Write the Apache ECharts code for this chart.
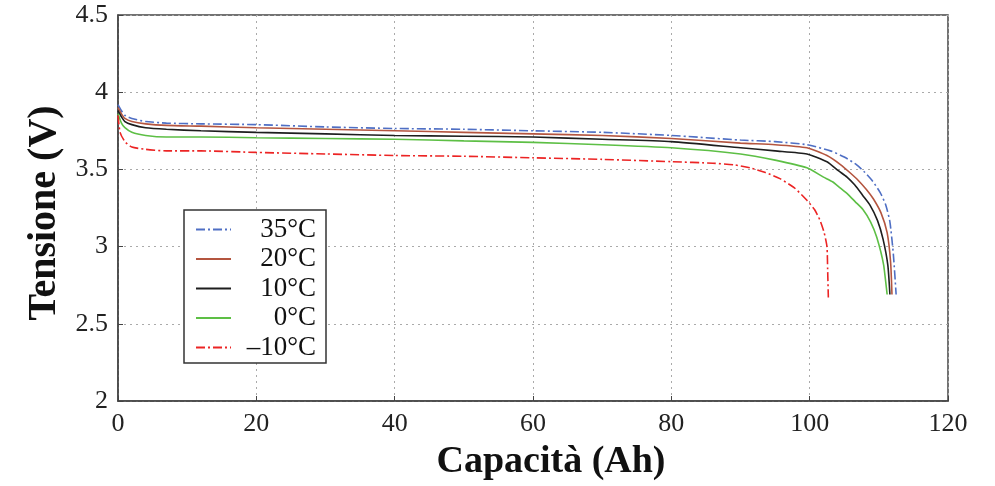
<!DOCTYPE html>
<html>
<head>
<meta charset="utf-8">
<script src="https://cdn.jsdelivr.net/npm/echarts@6/dist/echarts.min.js"></script>
<style>
  html, body { margin: 0; padding: 0; background: #fff; }
  #chart { width: 995px; height: 486px; }
</style>
</head>
<body>
<div id="chart"></div>
<script>
// curve di scarica: capacità (Ah) e tensione (V)
const x35 = [0, 0.5, 1, 2, 4, 7, 12, 20, 30, 40, 50, 60, 70, 80, 90, 95, 99.6, 103, 105, 106.8, 108, 109, 110.2, 111, 111.6, 112.1, 112.5]
const v35 = [3.92, 3.88, 3.85, 3.83, 3.81, 3.80, 3.795, 3.79, 3.775, 3.765, 3.76, 3.75, 3.74, 3.72, 3.69, 3.68, 3.66, 3.62, 3.58, 3.53, 3.48, 3.43, 3.35, 3.27, 3.16, 2.95, 2.69]

const x20 = [0, 0.5, 1, 2, 4, 7, 12, 20, 30, 40, 50, 60, 70, 80, 90, 95, 99.6, 102.5, 104.5, 105.8, 107, 108.2, 109.2, 110.3, 111.2, 111.7, 111.9]
const v20 = [3.90, 3.86, 3.83, 3.81, 3.795, 3.785, 3.78, 3.77, 3.76, 3.75, 3.74, 3.73, 3.72, 3.70, 3.67, 3.66, 3.64, 3.59, 3.53, 3.48, 3.43, 3.37, 3.31, 3.22, 3.09, 2.90, 2.69]

const x10 = [0, 0.5, 1, 2, 4, 7, 12, 20, 30, 40, 50, 60, 70, 80, 90, 95, 99.6, 102.5, 104.2, 105.4, 106.5, 107.7, 108.7, 109.8, 110.6, 111.3, 111.6]
const v10 = [3.88, 3.84, 3.81, 3.79, 3.77, 3.76, 3.75, 3.74, 3.73, 3.72, 3.715, 3.71, 3.695, 3.68, 3.64, 3.62, 3.60, 3.55, 3.49, 3.45, 3.40, 3.33, 3.27, 3.17, 3.05, 2.88, 2.69]

const x0 = [0, 0.5, 1, 2, 4, 7, 12, 20, 30, 40, 50, 60, 70, 80, 90, 95, 99.6, 102, 103.3, 104.4, 105.5, 106.6, 107.7, 108.8, 109.7, 110.7, 111.2]
const v0 = [3.86, 3.80, 3.77, 3.74, 3.72, 3.71, 3.71, 3.705, 3.70, 3.695, 3.685, 3.675, 3.66, 3.64, 3.60, 3.56, 3.51, 3.45, 3.42, 3.38, 3.34, 3.29, 3.24, 3.16, 3.06, 2.88, 2.69]

const xm10 = [0, 0.3, 1, 2, 4, 7, 12, 20, 30, 40, 50, 60, 70, 80, 86, 89, 91.4, 93.6, 95.7, 97.8, 99.6, 100.7, 101.5, 102.1, 102.5, 102.6, 102.7]
const vm10 = [3.85, 3.74, 3.68, 3.645, 3.63, 3.62, 3.62, 3.61, 3.60, 3.59, 3.585, 3.575, 3.565, 3.55, 3.54, 3.53, 3.51, 3.48, 3.44, 3.38, 3.30, 3.24, 3.17, 3.09, 3.00, 2.85, 2.67]

const names = ['35°C', '20°C', '10°C', '0°C', '–10°C']
const colors = ['#4f6fc4', '#b4553f', '#1e1e1e', '#5dbf45', '#ec2424']
const dashDot = [9, 3, 2, 3]
const styles = [dashDot, 'solid', 'solid', 'solid', dashDot]
const xs = [x35, x20, x10, x0, xm10]
const vs = [v35, v20, v10, v0, vm10]

const xTicks = [0, 20, 40, 60, 80, 100, 120]
const yTicks = [2, 2.5, 3, 3.5, 4, 4.5]

const serif = '"Liberation Serif", "DejaVu Serif", serif'

const chart = echarts.init(document.getElementById('chart'))

const series = names.map((n, i) => ({
  name: n,
  type: 'line',
  symbol: 'none',
  smooth: 0.2,
  data: xs[i].map((x, k) => [x, vs[i][k]]),
  lineStyle: { color: colors[i], width: 1.6, type: styles[i] },
  itemStyle: { color: colors[i] }
}))

chart.setOption({
  animation: false,
  backgroundColor: '#fff',
  grid: {
    left: 118, right: 47, top: 15, bottom: 85,
    show: true, borderColor: '#444', borderWidth: 1.5
  },
  legend: {
    orient: 'vertical',
    left: 184, top: 210,
    padding: [6, 10, 2, 11],
    itemGap: 2.5,
    itemWidth: 35, itemHeight: 14,
    borderColor: '#333', borderWidth: 1.5,
    backgroundColor: '#fff',
    itemStyle: { opacity: 0 },
    formatter: n => '{r|' + n + '}',
    textStyle: {
      fontFamily: serif, fontSize: 27, color: '#111',
      rich: { r: { width: 80, align: 'right', fontFamily: serif, fontSize: 27, color: '#111' } }
    },
    data: names
  },
  xAxis: {
    type: 'value',
    min: xTicks[0], max: xTicks[xTicks.length - 1], interval: 20,
    name: 'Capacità (Ah)',
    nameLocation: 'middle',
    nameGap: 42,
    nameTextStyle: { fontFamily: serif, fontSize: 38, fontWeight: 'bold', color: '#111', padding: [0, 0, 0, 36] },
    axisLine: { show: true, lineStyle: { color: '#444', width: 1.5 } },
    axisTick: { show: true, inside: true, length: 5, lineStyle: { color: '#444' } },
    axisLabel: { fontFamily: serif, fontSize: 26, color: '#222', margin: 10 },
    splitLine: { show: true, lineStyle: { color: '#aaa', type: [2, 4], width: 1 } }
  },
  yAxis: {
    type: 'value',
    min: yTicks[0], max: yTicks[yTicks.length - 1], interval: 0.5,
    name: 'Tensione (V)',
    nameLocation: 'middle',
    nameGap: 51,
    nameTextStyle: { fontFamily: serif, fontSize: 40, fontWeight: 'bold', color: '#111', padding: [0, 10, 0, 0] },
    axisLine: { show: true, lineStyle: { color: '#444', width: 1.5 } },
    axisTick: { show: true, inside: true, length: 5, lineStyle: { color: '#444' } },
    axisLabel: { fontFamily: serif, fontSize: 26, color: '#222', margin: 10 },
    splitLine: { show: true, lineStyle: { color: '#aaa', type: [2, 4], width: 1 } }
  },
  series
})
</script>
</body>
</html>
